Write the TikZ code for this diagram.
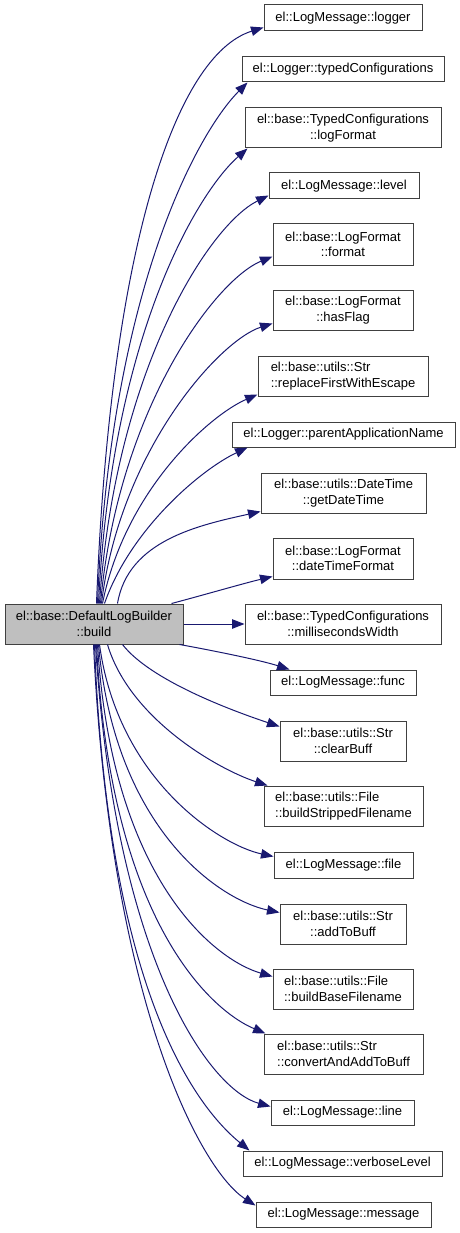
\documentclass[tikz,border=0pt]{standalone}
\usepackage{fontspec}
\setmainfont{Liberation Sans}
\usetikzlibrary{arrows.meta,calc}
\definecolor{edgeblue}{HTML}{191970}
\definecolor{boxborder}{HTML}{404040}
\definecolor{srcfill}{HTML}{BFBFBF}
\tikzset{
  box/.style={draw=boxborder, line width=1pt, fill=white, inner sep=0pt,
    font=\fontsize{13}{15.5}\selectfont, align=center},
  lbox/.style={box, align=left},
  srcbox/.style={box, fill=srcfill},
  edge/.style={draw=edgeblue, line width=1pt, -{Triangle[length=12.5pt,width=9.5pt]}}
}
\begin{document}
\begin{tikzpicture}[x=1pt,y=-1pt]
\useasboundingbox (0,0) rectangle (460,1233);
\node[srcbox, minimum width=178, minimum height=40] (src) at (94,624) {el::base::DefaultLogBuilder\\::build};
\node[box, minimum width=158, minimum height=26] (n1) at (343,18) {el::LogMessage::logger};
\node[box, minimum width=202, minimum height=25] (n2) at (343,69.5) {el::Logger::typedConfigurations};
\node[box, minimum width=196, minimum height=40] (n3) at (343,128) {el::base::TypedConfigurations\\::logFormat};
\node[box, minimum width=150, minimum height=26] (n4) at (344,186) {el::LogMessage::level};
\node[box, minimum width=140, minimum height=41] (n5) at (343,244.5) {el::base::LogFormat\\::format};
\node[box, minimum width=140, minimum height=40] (n6) at (343,310) {el::base::LogFormat\\::hasFlag};
\node[lbox, minimum width=170, minimum height=40] (n7) at (343,376) {el::base::utils::Str\\::replaceFirstWithEscape};
\node[box, minimum width=223, minimum height=25] (n8) at (343.5,434.5) {el::Logger::parentApplicationName};
\node[box, minimum width=165, minimum height=40] (n9) at (343.5,493) {el::base::utils::DateTime\\::getDateTime};
\node[box, minimum width=140, minimum height=41] (n10) at (343,558.5) {el::base::LogFormat\\::dateTimeFormat};
\node[box, minimum width=196, minimum height=40] (n11) at (343,624) {el::base::TypedConfigurations\\::millisecondsWidth};
\node[box, minimum width=146, minimum height=25] (n12) at (343,682.5) {el::LogMessage::func};
\node[box, minimum width=126, minimum height=40] (n13) at (343,741) {el::base::utils::Str\\::clearBuff};
\node[lbox, minimum width=159, minimum height=40] (n14) at (343.5,806) {el::base::utils::File\\::buildStrippedFilename};
\node[box, minimum width=139, minimum height=26] (n15) at (343.5,865) {el::LogMessage::file};
\node[box, minimum width=126, minimum height=40] (n16) at (343,924) {el::base::utils::Str\\::addToBuff};
\node[lbox, minimum width=140, minimum height=40] (n17) at (343,989) {el::base::utils::File\\::buildBaseFilename};
\node[lbox, minimum width=159, minimum height=40] (n18) at (343.5,1054) {el::base::utils::Str\\::convertAndAddToBuff};
\node[box, minimum width=143, minimum height=25] (n19) at (342.5,1112.5) {el::LogMessage::line};
\node[box, minimum width=199, minimum height=25] (n20) at (342.5,1163.5) {el::LogMessage::verboseLevel};
\node[box, minimum width=175, minimum height=25] (n21) at (343.5,1214.5) {el::LogMessage::message};
% upper edges
\draw[edge] ($(src.north west)+(92,0)$) .. controls (110,250) and (175,55) .. ($(n1.south west)+(0,-4)$);
\draw[edge] ($(src.north west)+(93,0)$) .. controls (110,290) and (198,132) .. ($(n2.south west)+(6,0)$);
\draw[edge] ($(src.north west)+(94,0)$) .. controls (112,330) and (200,190) .. ($(n3.south west)+(3,0)$);
\draw[edge] ($(src.north west)+(95,0)$) .. controls (115,370) and (209,225) .. ($(n4.south west)+(0,-4)$);
\draw[edge] ($(src.north west)+(96,0)$) .. controls (118,410) and (215,280) .. ($(n5.south west)+(0,-9)$);
\draw[edge] ($(src.north west)+(97,0)$) .. controls (120,450) and (220,340) .. ($(n6.south west)+(0,-7)$);
\draw[edge] ($(src.north west)+(98,0)$) .. controls (125,490) and (210,415) .. ($(n7.south west)+(0,-2)$);
\draw[edge] ($(src.north west)+(100,0)$) .. controls (130,530) and (200,470) .. ($(n8.south west)+(16,0)$);
\draw[edge] ($(src.north west)+(113,0)$) .. controls (128,540) and (200,525) .. ($(n9.south west)+(0,-2)$);
\draw[edge] ($(src.north west)+(167,0)$) .. controls (200,596) and (245,583) .. ($(n10.south west)+(0,-3)$);
\draw[edge] (src.east) -- (n11.west);
% lower edges
\draw[edge] ($(src.south west)+(175,0)$) .. controls (210,650) and (260,660) .. ($(n12.north west)+(20,0)$);
\draw[edge] ($(src.south west)+(118,0)$) .. controls (150,680) and (230,710) .. ($(n13.north west)+(0,6)$);
\draw[edge] ($(src.south west)+(103,0)$) .. controls (130,720) and (220,770) .. ($(n14.north west)+(4,0)$);
\draw[edge] ($(src.south west)+(95,0)$) .. controls (118,780) and (220,845) .. ($(n15.north west)+(0,5)$);
\draw[edge] ($(src.south west)+(94,0)$) .. controls (115,830) and (220,900) .. ($(n16.north west)+(0,9)$);
\draw[edge] ($(src.south west)+(93,0)$) .. controls (112,880) and (215,960) .. ($(n17.north west)+(0,8)$);
\draw[edge] ($(src.south west)+(92,0)$) .. controls (110,920) and (210,1010) .. ($(n18.north west)+(2,0)$);
\draw[edge] ($(src.south west)+(91,0)$) .. controls (115,960) and (210,1090) .. ($(n19.north west)+(0,7)$);
\draw[edge] ($(src.south west)+(90,0)$) .. controls (108,1000) and (200,1110) .. ($(n20.north west)+(7,0)$);
\draw[edge] ($(src.south west)+(89,0)$) .. controls (110,1000) and (200,1170) .. ($(n21.north west)+(0,4)$);
\end{tikzpicture}
\end{document}
